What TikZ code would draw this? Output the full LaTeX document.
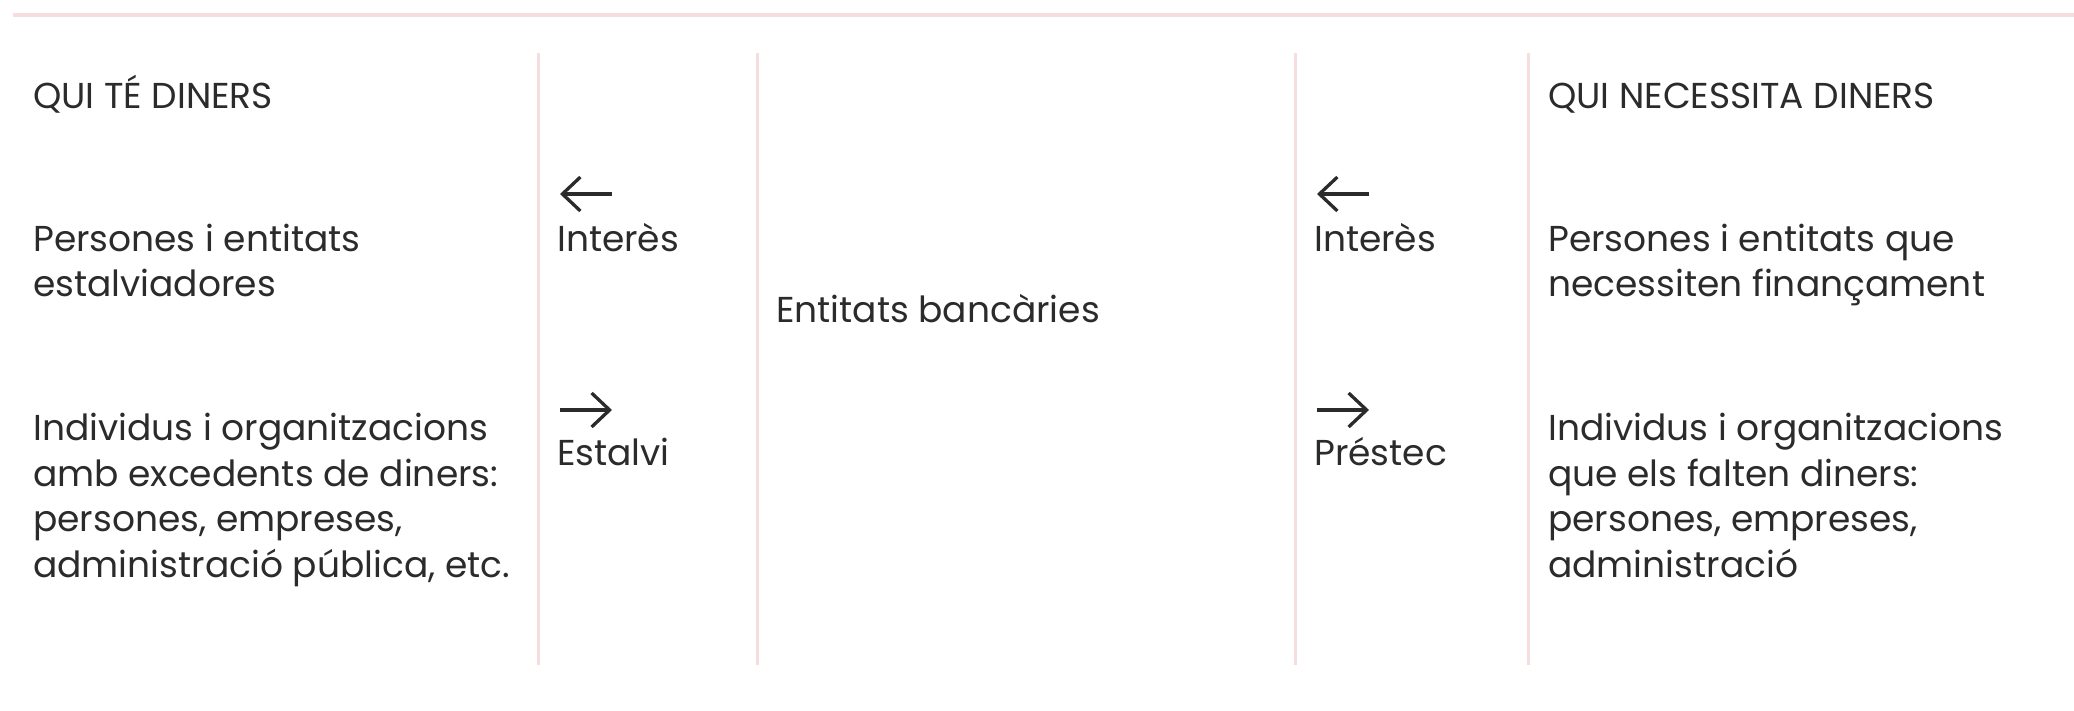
\documentclass[tikz,border=0pt]{standalone}
\usepackage{fontspec}
\setmainfont{Poppins}
\usetikzlibrary{arrows.meta}
\definecolor{ink}{HTML}{2B2B2B}
\definecolor{rule}{HTML}{F7DEDE}
\tikzset{
    txt/.style={anchor=base west, inner sep=0pt, align=left, text=ink,
        font=\fontsize{36}{45.5}\selectfont},
    sep/.style={draw=rule, line width=3pt},
    flow/.style={draw=ink, line width=3.3pt, -{Straight Barb[length=18pt,width=34pt]}}
}
\begin{document}
\begin{tikzpicture}[x=1pt, y=-1pt]
    \useasboundingbox (0,0) rectangle (2074,711);
    \draw [draw=rule, line width=4pt] (13,15) -- (2074,15);
    \foreach \x in {538,757,1295,1528}
        \draw [sep] (\x,53) -- (\x,665);
    % who has money (multi-line nodes sit on their last baseline)
    \node [txt] (havehead) at (33,109) {QUI TÉ DINERS};
    \node [txt] (havewho) at (33,297) {Persones i entitats\\estalviadores};
    \node [txt] (havelist) at (33,577) {Individus i organitzacions\\amb excedents de diners:\\persones, empreses,\\administració pública, etc.};
    % flows on the saver side
    \node [txt] (intleft) at (557,252) {Interès};
    \node [txt] (saving) at (557,465) {Estalvi};
    \draw [flow] (612,194) -- (560,194);
    \draw [flow] (560,410) -- (612,410);
    % the banks
    \node [txt] (banks) at (776,323) {Entitats bancàries};
    % flows on the borrower side
    \node [txt] (intright) at (1314,252) {Interès};
    \node [txt] (loan) at (1314,465) {Préstec};
    \draw [flow] (1369,194) -- (1317,194);
    \draw [flow] (1317,410) -- (1369,410);
    % who needs money
    \node [txt] (needhead) at (1548,109) {QUI NECESSITA DINERS};
    \node [txt] (needwho) at (1548,297) {Persones i entitats que\\necessiten finançament};
    \node [txt] (needlist) at (1548,577) {Individus i organitzacions\\que els falten diners:\\persones, empreses,\\administració};
\end{tikzpicture}
\end{document}
